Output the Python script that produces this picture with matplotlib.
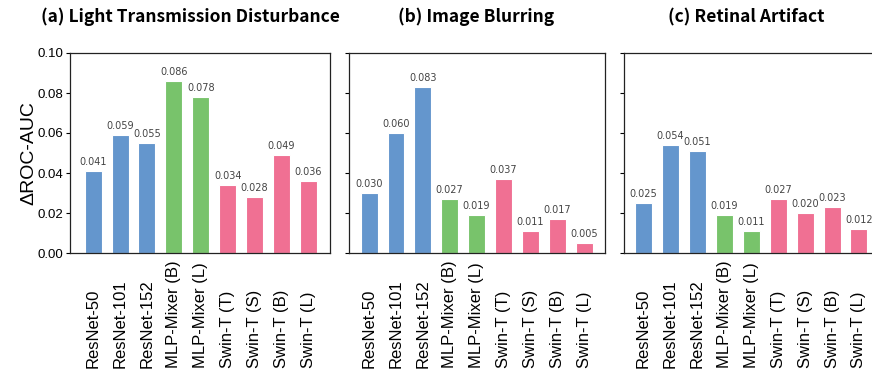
import matplotlib

matplotlib.use("Agg")
import matplotlib.pyplot as plt

MODELS = ["ResNet-50", "ResNet-101", "ResNet-152", "MLP-Mixer (B)", "MLP-Mixer (L)",
          "Swin-T (T)", "Swin-T (S)", "Swin-T (B)", "Swin-T (L)"]
TITLES = ["(a) Light Transmission Disturbance", "(b) Image Blurring", "(c) Retinal Artifact"]
LIGHT = [0.041, 0.059, 0.055, 0.086, 0.078, 0.034, 0.028, 0.049, 0.036]
BLUR = [0.030, 0.060, 0.083, 0.027, 0.019, 0.037, 0.011, 0.017, 0.005]
RETINAL = [0.025, 0.054, 0.051, 0.019, 0.011, 0.027, 0.020, 0.023, 0.012]
YTICKS = [0.00, 0.02, 0.04, 0.06, 0.08, 0.10]

BLUE, GREEN, PINK = "#6496cd", "#78c36b", "#f07093"
colors = [BLUE] * 3 + [GREEN] * 2 + [PINK] * 4

W, H = 872, 383
fig = plt.figure(figsize=(W / 100, H / 100), dpi=100)

# panel boxes in pixels (left, width) and x-limits
boxes = [(70, 260), (349, 256), (624, 256)]
xlims = [(-0.86, 8.8), (-0.75, 8.78), (-0.72, 8.78)]
title_x = [190, 476, 746]
top, bottom = 53, 253
label_bottom = 368  # names are aligned on their first letter

for i, (vals, title) in enumerate(zip([LIGHT, BLUR, RETINAL], TITLES)):
    left, width = boxes[i]
    ax = fig.add_axes([left / W, 1 - bottom / H, width / W, (bottom - top) / H])
    x = list(range(len(MODELS)))
    ax.bar(x, vals, width=0.63, color=colors, edgecolor="white", linewidth=0.8)
    for xi, v in zip(x, vals):
        ax.text(xi, v + 0.0022, f"{v:.3f}", ha="center", va="bottom",
                fontsize=7, color="#444444")
    ax.set_xlim(*xlims[i])
    ax.set_ylim(0, 0.10)
    ax.set_yticks(YTICKS)
    ax.set_xticks(x)
    ax.set_xticklabels([])
    ax.tick_params(axis="x", length=0)
    ax.tick_params(axis="y", length=3, width=0.8, pad=2, labelsize=9.5)
    yb = -(label_bottom - bottom) / (bottom - top)
    for xi, name in zip(x, MODELS):
        ax.text(xi, yb, name, rotation=90, ha="center", va="bottom",
                fontsize=12, family="Liberation Sans",
                transform=ax.get_xaxis_transform(), clip_on=False)
    if i == 0:
        ax.set_yticklabels([f"{t:.2f}" for t in YTICKS], family="Liberation Sans")
        ax.set_ylabel("ΔROC-AUC", fontsize=14, family="Liberation Sans")
        ax.yaxis.set_label_coords(-0.125, 0.5)
    else:
        ax.set_yticklabels([])
    for s in ax.spines.values():
        s.set_linewidth(0.9)
        s.set_color("#222222")
    fig.text(title_x[i] / W, 1 - 17 / H, title, ha="center", va="center",
             fontsize=12.5, fontweight="bold", family=["Noto Sans CJK JP", "DejaVu Sans"])

fig.savefig("out.png", dpi=100)
